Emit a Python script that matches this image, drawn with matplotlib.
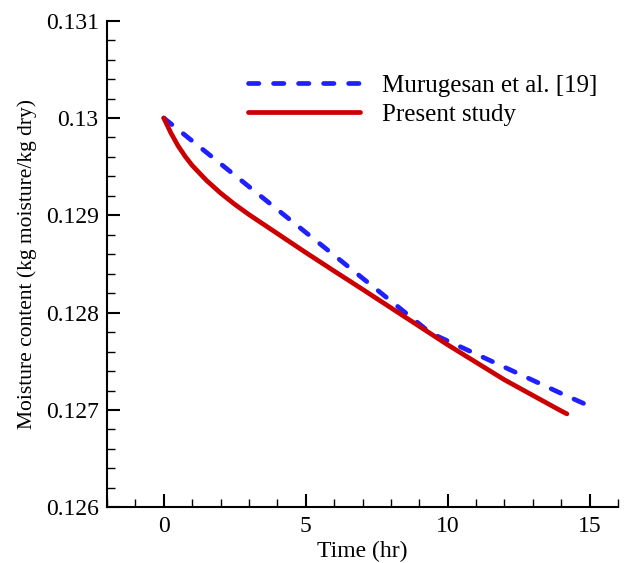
import matplotlib
matplotlib.use("Agg")
import matplotlib.pyplot as plt
from matplotlib.ticker import MultipleLocator, FuncFormatter

# Data
blue_time = [0, 2, 4, 6, 8, 9.4, 10, 12, 14, 15]
blue_moisture = [0.13, 0.12953, 0.12906, 0.12859, 0.12812, 0.12779, 0.12771, 0.12744, 0.12717, 0.12704]

red_time = [0, 0.25, 0.5, 0.75, 1, 1.5, 2, 2.5, 3, 4, 5, 6, 7, 8, 9, 10, 11, 12, 13, 14, 14.2]
red_moisture = [0.13, 0.129847, 0.129716, 0.129607, 0.129513, 0.12936, 0.129229, 0.129113,
                0.129008, 0.128813, 0.128618, 0.128428, 0.12824, 0.12805, 0.12786, 0.12767,
                0.12749, 0.12731, 0.12715, 0.12699, 0.12696]

labels = ["Murugesan et al. [19]", "Present study"]

plt.rcParams['font.family'] = ['Liberation Serif', 'DejaVu Serif']

fig = plt.figure(figsize=(6.33, 5.63), dpi=100)
ax = fig.add_axes([107/633, 1-507.3/563, (618-107)/633, (507.3-20.7)/563])

lb, = ax.plot(blue_time, blue_moisture, color='#2020ff', lw=3.4, dash_capstyle='round',
              solid_capstyle='round', label=labels[0])
lb.set_dashes([2.2, 3.1])
ax.plot(red_time, red_moisture, color='#cc0000', lw=3.4, solid_capstyle='round',
        solid_joinstyle='round', label=labels[1])

ax.set_xlim(-2, 16)
ax.set_ylim(0.126, 0.131)
ax.xaxis.set_major_locator(MultipleLocator(5))
ax.xaxis.set_minor_locator(MultipleLocator(1))
ax.yaxis.set_major_locator(MultipleLocator(0.001))
ax.yaxis.set_minor_locator(MultipleLocator(0.0002))
ax.yaxis.set_major_formatter(FuncFormatter(lambda v, p: f"{round(v, 6):g}"))

for s in ['top', 'right']:
    ax.spines[s].set_visible(False)
for s in ['left', 'bottom']:
    ax.spines[s].set_linewidth(1.5)

ax.tick_params(which='major', direction='in', length=9.5, width=1.5, labelsize=17, pad=6)
ax.tick_params(which='minor', direction='in', length=5.5, width=1.0)

ax.set_xlabel("Time (hr)", fontsize=17, labelpad=3)
ax.set_ylabel("Moisture content (kg moisture/kg dry)", fontsize=15.5, labelpad=6)

leg = ax.legend(loc='center left', bbox_to_anchor=(247.5/633, 1-100/563), bbox_transform=fig.transFigure,
                frameon=False, fontsize=18, handlelength=4.5, handletextpad=0.9,
                borderpad=0, labelspacing=0.25, borderaxespad=0)

fig.savefig("out.png", dpi=100)
